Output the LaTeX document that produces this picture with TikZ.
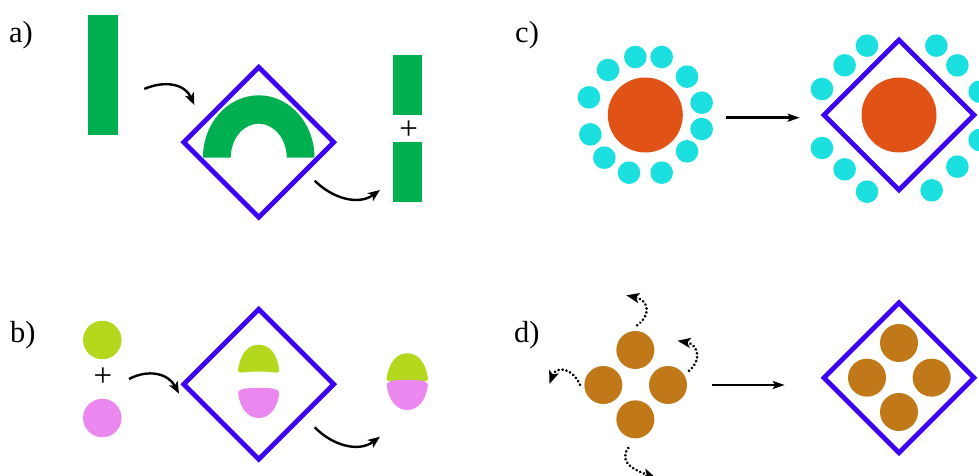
\documentclass[tikz,border=0pt]{standalone}
\usepackage{fontspec}
\setmainfont{Liberation Serif}
\usetikzlibrary{arrows.meta}
\definecolor{barGreen}{HTML}{00AF50}
\definecolor{frameBlue}{HTML}{3C00F5}
\definecolor{limeBall}{HTML}{B4D81E}
\definecolor{pinkBall}{HTML}{EB88F0}
\definecolor{coreOrange}{HTML}{E05216}
\definecolor{dotCyan}{HTML}{1CE0E0}
\definecolor{ballBrown}{HTML}{C07818}
\tikzset{
  x=1pt, y=-1pt,
  panel/.style={font=\fontsize{30.5}{30.5}\selectfont, inner sep=0pt, anchor=base west},
  plus/.style={font=\fontsize{33}{33}\selectfont, inner sep=0pt},
  bar/.style={fill=barGreen, draw=none},
  frame/.style={draw=frameBlue, line width=4.8pt, miter limit=10},
  flow/.style={draw=black, line width=2.4pt, -{Stealth[length=12pt,width=9.5pt,inset=3pt]}},
  leak/.style={draw=black, line width=3pt, line cap=round, dash pattern=on 0.01pt off 4pt, -{Stealth[length=13pt,width=10pt,inset=3pt]}},
  straight/.style={draw=black, line width=2.4pt, -{Stealth[length=12pt,width=8pt,inset=2.5pt]}},
  dot/.style={circle, fill=dotCyan, draw=none, minimum size=22.6pt, inner sep=0pt},
  core/.style={circle, fill=coreOrange, draw=none, minimum size=75pt, inner sep=0pt},
  brown/.style={circle, fill=ballBrown, draw=none, minimum size=38pt, inner sep=0pt},
  lime/.style={circle, fill=limeBall, draw=none, minimum size=38.5pt, inner sep=0pt},
  pinkdisc/.style={circle, fill=pinkBall, draw=none, minimum size=38.5pt, inner sep=0pt},
  lobe/.pic={
    \fill[pic actions] (-17,0) .. controls (-19.5,0.2) and (-21,-1) .. (-20.5,-4)
      .. controls (-18,-19) and (-11,-28) .. (0,-28)
      .. controls (11,-28) and (18,-19) .. (20.5,-4)
      .. controls (21,-1) and (19.5,0.2) .. (17,0)
      .. controls (7,-1.6) and (-7,-1.6) .. (-17,0) -- cycle;
  },
  cup/.pic={
    \fill[pic actions] (-12,0.3) .. controls (-5,-0.2) and (5,-0.2) .. (12,0.3)
      .. controls (17,1) and (21,2) .. (20.5,6)
      .. controls (18.5,20) and (11,30) .. (0,30)
      .. controls (-11,30) and (-18.5,20) .. (-20.5,6)
      .. controls (-21,2) and (-17,1) .. (-12,0.3) -- cycle;
  }
}
\newcommand{\squareframe}[2]{\draw[frame] (#1-75,#2) -- (#1,#2-75) -- (#1+75,#2) -- (#1,#2+75) -- cycle;}
\begin{document}
\begin{tikzpicture}
\useasboundingbox (0,0) rectangle (979,476);
\clip (0,0) rectangle (979,476);

% panel labels
\node[panel] (la) at (9,43) {a)};
\node[panel] (lb) at (10,342) {b)};
\node[panel] (lc) at (515,43) {c)};
\node[panel] (ld) at (514,342) {d)};

% panel a: bar, arch inside the frame, two fragments
\fill[bar] (88,15) rectangle (117.7,135);
\squareframe{258.7}{142.3}
\fill[bar] (202.9,157.7) arc[start angle=180, end angle=360, x radius=55.8, y radius=62.4]
  -- (286.7,157.7) arc[start angle=360, end angle=180, x radius=28, y radius=34] -- cycle;
\fill[bar] (392.7,55.3) rectangle (422,115.3);
\fill[bar] (392.7,142.3) rectangle (422,202.3);
\node[plus] (pa) at (408.7,129.7) {+};
\coordinate (a1s) at (144.3,89);
\coordinate (a1e) at (194.3,105);
\coordinate (a2s) at (314.7,180.7);
\coordinate (a2e) at (380,190);
\draw[flow] (a1s) .. controls (165,80) and (185,84) .. (a1e);
\draw[flow] (a2s) .. controls (332,198) and (358,206) .. (a2e);

% panel b: two discs, two halves inside the frame, joined halves
\node[lime] (bl) at (102.3,340) {};
\node[pinkdisc] (bp) at (102.3,418) {};
\node[plus] (pb) at (103,377) {+};
\squareframe{258.7}{384.3}
\pic[fill=limeBall] at (258.7,372.7) {lobe};
\pic[fill=pinkBall] at (258.7,388) {cup};
\pic[fill=limeBall] at (407.3,381.3) {lobe};
\pic[fill=pinkBall] at (407.3,380) {cup};
\coordinate (b1s) at (129,379);
\coordinate (b1e) at (179,393.7);
\coordinate (b2s) at (314.7,427.3);
\coordinate (b2e) at (380,436.7);
\draw[flow] (b1s) .. controls (148,369) and (168,373) .. (b1e);
\draw[flow] (b2s) .. controls (332,445) and (358,453) .. (b2e);

% panel c: free shell of dots around the core, then shell outside the frame
\node[core] (c1) at (645.3,115) {};
\foreach \px/\py [count=\i] in {409/171,488/171,564/230,608/308,608/387,564/454,488/518,390/518,316/473,274/403,270/292,327/210}
  \node[dot] (cl\i) at ({499+\px/3},{\py/3}) {};
\coordinate (c1s) at (726.3,117.7);
\coordinate (c1e) at (799.7,117.7);
\draw[straight] (c1s) -- (c1e);
\squareframe{899}{115}
\node[core] (c2) at (899,115) {};
\foreach \px/\py [count=\i] in {1104/137,1312/137,1375/196,1037/196,969/267,1442/275,969/444,1037/508,1104/575,1298/571,1375/500,1442/420}
  \node[dot] (cr\i) at ({499+\px/3},{\py/3}) {};

% panel d: four free balls with leaving paths, then packed inside the frame
\foreach \px/\py [count=\i] in {409/336,313/441,507/441,409/544}
  \node[brown] (dl\i) at ({499+\px/3},{238+\py/3}) {};
\coordinate (d1s) at (637.3,325.3);
\coordinate (d1e) at (626.3,295.3);
\coordinate (d2s) at (689,370.7);
\coordinate (d2e) at (677.5,340.7);
\coordinate (d3s) at (580,384.7);
\coordinate (d3e) at (549.5,384);
\coordinate (d4s) at (628.3,448);
\coordinate (d4e) at (656,478);
\draw[leak] (d1s) .. controls (652,314) and (648,300) .. (d1e);
\draw[leak] (d2s) .. controls (703,359) and (697,344) .. (d2e);
\draw[leak] (d3s) .. controls (572,367) and (556,366) .. (d3e);
\draw[leak] (d4s) .. controls (618,462) and (634,470) .. (d4e);
\coordinate (d5s) at (711.7,385);
\coordinate (d5e) at (784.7,385);
\draw[straight] (d5s) -- (d5e);
\squareframe{899}{377.7}
\foreach \px/\py [count=\i] in {1200/315,1104/419,1298/419,1200/522}
  \node[brown] (dr\i) at ({499+\px/3},{238+\py/3}) {};
\end{tikzpicture}
\end{document}
